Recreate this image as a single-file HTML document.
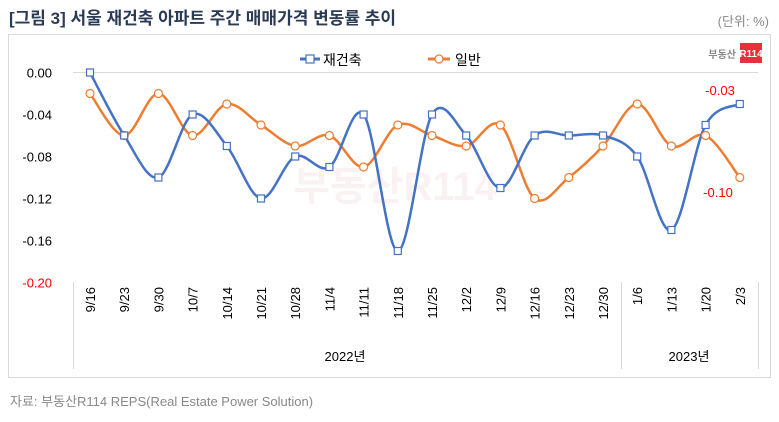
<!DOCTYPE html>
<html><head><meta charset="utf-8"><style>
body{margin:0;width:779px;height:417px;background:#fff;overflow:hidden;font-family:"Liberation Sans","Noto Sans CJK KR",sans-serif}
</style></head><body>
<svg id="s" width="779" height="417" xmlns="http://www.w3.org/2000/svg" font-family="Liberation Sans, Noto Sans CJK KR, sans-serif">
<text x="9" y="24" font-size="17" font-weight="bold" fill="#2b3a55">[그림 3] 서울 재건축 아파트 주간 매매가격 변동률 추이</text>
<text x="769" y="26" font-size="13" fill="#888" text-anchor="end">(단위: %)</text>
<rect x="8.5" y="34.5" width="762" height="343" fill="#fff" stroke="#d9d9d9"/>
<text x="736" y="58" font-size="10" font-weight="bold" fill="#888" text-anchor="end">부동산</text>
<rect x="740" y="43" width="22" height="20" fill="#e8303a"/>
<text x="751" y="57" font-size="10" font-weight="bold" fill="#fff" text-anchor="middle">R114</text>
<text x="395" y="200" font-size="40" font-weight="bold" fill="#f7eaea" text-anchor="middle" opacity="0.6">부동산R114</text>
<line x1="73" y1="72.5" x2="758" y2="72.5" stroke="#d9d9d9"/>
<line x1="300" y1="59" x2="320" y2="59" stroke="#4472c4" stroke-width="3"/>
<rect x="306" y="55" width="8" height="8" fill="#fff" stroke="#4472c4" stroke-width="1.2"/>
<text x="323" y="65" font-size="14" fill="#000">재건축</text>
<line x1="428" y1="59" x2="450" y2="59" stroke="#ed7d31" stroke-width="3"/>
<circle cx="439" cy="59" r="4" fill="#fff" stroke="#ed7d31" stroke-width="1.2"/>
<text x="455" y="65" font-size="14" fill="#000">일반</text>
<g id="g"></g>
<line x1="73.5" y1="282" x2="73.5" y2="369" stroke="#d9d9d9"/>
<line x1="621.5" y1="282" x2="621.5" y2="369" stroke="#d9d9d9"/>
<line x1="758.5" y1="282" x2="758.5" y2="369" stroke="#d9d9d9"/>
<text x="345" y="361" font-size="13" text-anchor="middle">2022년</text>
<text x="689" y="361" font-size="13" text-anchor="middle">2023년</text>
<text x="720" y="95" font-size="13" fill="#ff0000" text-anchor="middle">-0.03</text>
<text x="718" y="197" font-size="13" fill="#ff0000" text-anchor="middle">-0.10</text>
<text x="10" y="406" font-size="13" fill="#888">자료: 부동산R114 REPS(Real Estate Power Solution)</text>
</svg>
<script>
var g=document.getElementById('g'),h='';
var cats=['9/16','9/23','9/30','10/7','10/14','10/21','10/28','11/4','11/11','11/18','11/25','12/2','12/9','12/16','12/23','12/30','1/6','1/13','1/20','2/3'];
var A=[0,-.06,-.10,-.04,-.07,-.12,-.08,-.09,-.04,-.17,-.04,-.06,-.11,-.06,-.06,-.06,-.08,-.15,-.05,-.03];
var B=[-.02,-.06,-.02,-.06,-.03,-.05,-.07,-.06,-.09,-.05,-.06,-.07,-.05,-.12,-.10,-.07,-.03,-.07,-.06,-.10];
function X(i){return 90+34.2*i}function Y(v){return 72.5-v*1050}
for(var k=0;k<=5;k++){var v=-0.04*k;h+='<text x="52" y="'+(Y(v)+5)+'" font-size="13" text-anchor="end" fill="'+(k==5?'#ff0000':'#000')+'">'+(k==0?'0.00':v.toFixed(2))+'</text>';}
cats.forEach(function(c,i){h+='<text transform="translate('+(X(i)+5)+',287) rotate(-90)" font-size="13" text-anchor="end">'+c+'</text>';});
function path(d){var p=d.map(function(v,i){return[X(i),Y(v)]}),s='M'+p[0][0]+','+p[0][1];
for(var i=0;i<p.length-1;i++){var p0=p[i-1]||p[i],p1=p[i],p2=p[i+1],p3=p[i+2]||p2,t=6;
s+=' C'+(p1[0]+(p2[0]-p0[0])/t)+','+(p1[1]+(p2[1]-p0[1])/t)+' '+(p2[0]-(p3[0]-p1[0])/t)+','+(p2[1]-(p3[1]-p1[1])/t)+' '+p2[0]+','+p2[1];}return s;}
h+='<path d="'+path(B)+'" fill="none" stroke="#ed7d31" stroke-width="2.5"/>';
h+='<path d="'+path(A)+'" fill="none" stroke="#4472c4" stroke-width="2.5"/>';
B.forEach(function(v,i){h+='<circle cx="'+X(i)+'" cy="'+Y(v)+'" r="4" fill="#fff" stroke="#ed7d31" stroke-width="1.2"/>';});
A.forEach(function(v,i){h+='<rect x="'+(X(i)-3.5)+'" y="'+(Y(v)-3.5)+'" width="7" height="7" fill="#fff" stroke="#4472c4" stroke-width="1.2"/>';});
g.innerHTML=h;
</script>
</body></html>
